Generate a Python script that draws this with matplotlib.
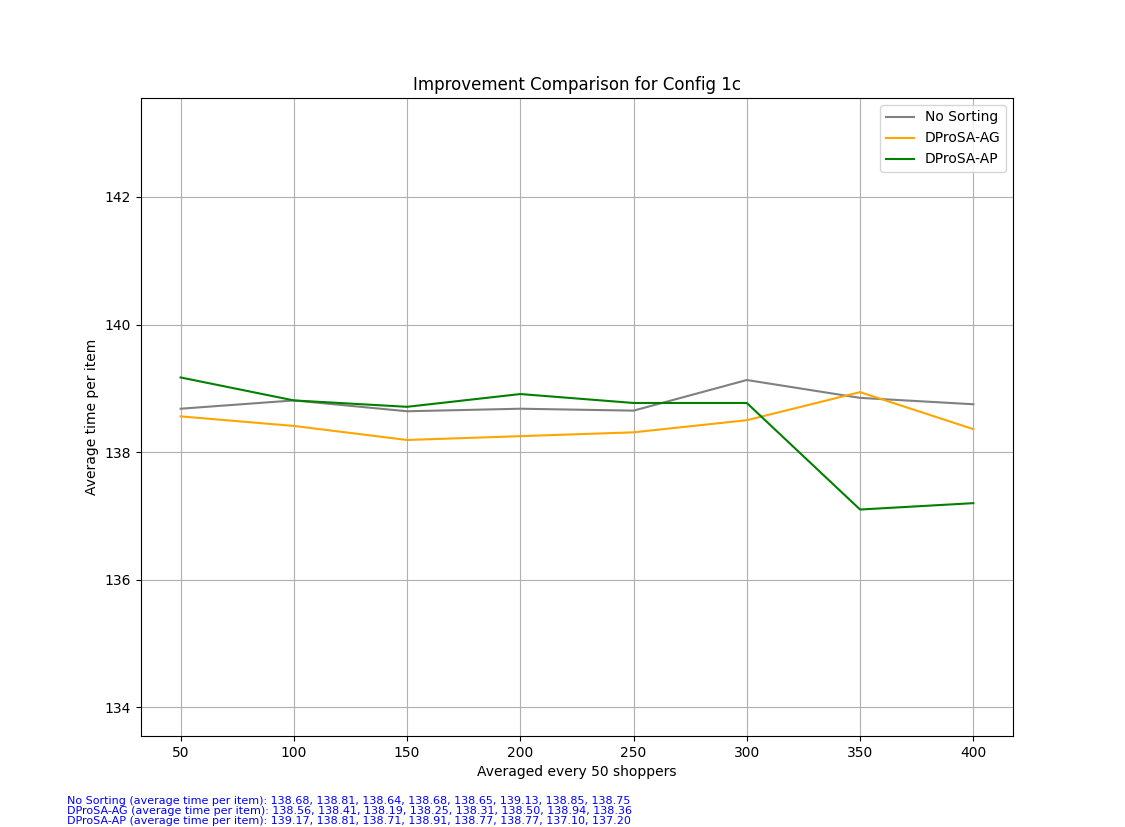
import matplotlib
matplotlib.use("Agg")
import matplotlib.pyplot as plt

shoppers = [50, 100, 150, 200, 250, 300, 350, 400]
no_sorting = [138.68, 138.81, 138.64, 138.68, 138.65, 139.13, 138.85, 138.75]
dprosa_ag = [138.56, 138.41, 138.19, 138.25, 138.31, 138.50, 138.94, 138.36]
dprosa_ap = [139.17, 138.81, 138.71, 138.91, 138.77, 138.77, 137.10, 137.20]

fig = plt.figure(figsize=(11.25, 8.27), dpi=100)
ax = fig.add_axes([0.1253, 0.110, 0.7751, 0.7715])
ax.plot(shoppers, no_sorting, color="gray", label="No Sorting")
ax.plot(shoppers, dprosa_ag, color="orange", label="DProSA-AG")
ax.plot(shoppers, dprosa_ap, color="green", label="DProSA-AP")
ax.set_ylim(133.55, 143.55)
ax.set_yticks([134, 136, 138, 140, 142])
ax.set_xticks(shoppers)
ax.grid(True)
ax.set_title("Improvement Comparison for Config 1c")
ax.set_xlabel("Averaged every 50 shoppers")
ax.set_ylabel("Average time per item")
ax.legend(loc="upper right")

def fmt(v):
    return ", ".join(f"{x:.2f}" for x in v)

txt = ("No Sorting (average time per item): " + fmt(no_sorting) + "\n"
       "DProSA-AG (average time per item): " + fmt(dprosa_ag) + "\n"
       "DProSA-AP (average time per item): " + fmt(dprosa_ap))
fig.text(0.0595, 0.0015, txt, color="blue", fontsize=8, va="bottom", linespacing=1.0)

fig.savefig("out.png", dpi=100)
